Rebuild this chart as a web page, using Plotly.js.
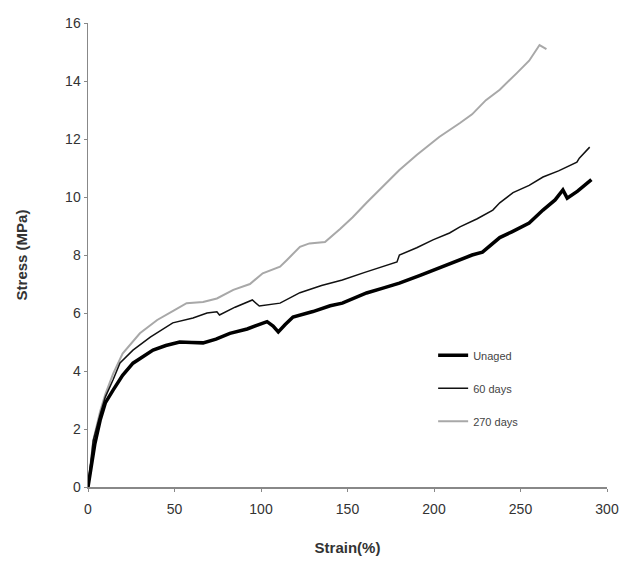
<!DOCTYPE html>
<html>
<head>
<meta charset="utf-8">
<script src="https://cdn.plot.ly/plotly-3.0.1.min.js"></script>
<style>html,body{margin:0;padding:0;background:#fff;}#chart{width:628px;height:561px;}</style>
</head>
<body>
<div id="chart"></div>
<script>
const seriesNames = ["Unaged", "60 days", "270 days"];

const unagedX = [0, 2, 4, 7, 10, 14.5, 20, 26, 32, 37.6, 45, 53, 60, 66.5, 74, 82, 92, 103.5, 107, 110, 114, 118.5, 130, 140, 147, 161, 170, 180, 192, 205, 215, 222, 228, 234, 238, 245, 255, 263, 270, 274.5, 277, 283, 291];
const unagedY = [0, 0.8, 1.5, 2.3, 2.9, 3.34, 3.85, 4.27, 4.5, 4.72, 4.88, 5.0, 4.98, 4.97, 5.1, 5.3, 5.45, 5.7, 5.55, 5.35, 5.6, 5.86, 6.05, 6.25, 6.34, 6.69, 6.85, 7.03, 7.3, 7.6, 7.85, 8.0, 8.1, 8.4, 8.6, 8.8, 9.1, 9.55, 9.9, 10.24, 9.96, 10.2, 10.6];

const days60X = [0, 3, 7, 10, 14.5, 18.5, 26, 36, 49, 60.7, 68.8, 74.5, 76, 85, 95, 99, 111, 122.5, 135, 147, 160, 172.8, 176, 178.6, 180, 190, 199.4, 209, 215, 225, 234, 238, 245.7, 255, 263, 272, 282.6, 284, 290];
const days60Y = [0, 1.6, 2.5, 3.1, 3.7, 4.28, 4.72, 5.17, 5.66, 5.83, 6.0, 6.04, 5.93, 6.2, 6.45, 6.24, 6.34, 6.7, 6.95, 7.14, 7.4, 7.66, 7.7, 7.76, 8.0, 8.25, 8.52, 8.76, 8.97, 9.25, 9.55, 9.8, 10.15, 10.4, 10.69, 10.9, 11.2, 11.34, 11.72];

const days270X = [0, 3, 7, 10, 14.5, 20, 30, 40, 50, 57, 66.5, 74.5, 84, 93.6, 101, 111, 115, 122.5, 128, 137, 145.7, 153, 161, 170, 180, 190, 203, 215, 222, 230, 238, 248, 255, 261, 265];
const days270Y = [0, 1.6, 2.6, 3.2, 3.9, 4.6, 5.3, 5.76, 6.1, 6.34, 6.38, 6.5, 6.8, 7.0, 7.37, 7.6, 7.83, 8.28, 8.4, 8.45, 8.9, 9.3, 9.8, 10.35, 10.93, 11.45, 12.07, 12.55, 12.85, 13.34, 13.7, 14.28, 14.7, 15.24, 15.1];

const xTicks = [0, 50, 100, 150, 200, 250, 300];
const yTicks = [0, 2, 4, 6, 8, 10, 12, 14, 16];

const traces = [
  {x: days270X, y: days270Y, name: seriesNames[2], mode: "lines", legendgroup: "c", legendrank: 3,
   line: {color: "#a8a8a8", width: 2}},
  {x: days60X, y: days60Y, name: seriesNames[1], mode: "lines", legendgroup: "b", legendrank: 2,
   line: {color: "#111111", width: 1.5}},
  {x: unagedX, y: unagedY, name: seriesNames[0], mode: "lines", legendgroup: "a", legendrank: 1,
   line: {color: "#000000", width: 3.5}}
];

const fontFam = "Liberation Sans, Arial, sans-serif";
const layout = {
  width: 628, height: 561,
  margin: {l: 88, r: 21, t: 23, b: 74},
  paper_bgcolor: "#fff", plot_bgcolor: "#fff",
  font: {family: fontFam, color: "#333"},
  showlegend: true,
  legend: {x: 0.665, y: 0.315, xanchor: "left", yanchor: "top",
    bgcolor: "rgba(0,0,0,0)", font: {size: 11, color: "#444"},
    traceorder: "grouped", tracegroupgap: 14},
  xaxis: {range: [0, 300], tickvals: xTicks, ticktext: xTicks.map(String),
    showgrid: false, zeroline: false, showline: true, linecolor: "#888", linewidth: 1.5,
    ticks: "outside", ticklen: 3, tickcolor: "#888", tickfont: {size: 14, color: "#333"},
    ticklabelstandoff: 6,
    title: {text: "<b>Strain(%)</b>", font: {size: 15, color: "#333"}, standoff: 26}},
  yaxis: {range: [0, 16], tickvals: yTicks, ticktext: yTicks.map(String),
    showgrid: false, zeroline: false, showline: true, linecolor: "#888", linewidth: 1.5,
    ticks: "outside", ticklen: 3, tickcolor: "#888", tickfont: {size: 14, color: "#333"},
    title: {text: "<b>Stress (MPa)</b>", font: {size: 15, color: "#333"}, standoff: 34}}
};

Plotly.newPlot("chart", traces, layout, {displayModeBar: false, staticPlot: true});
</script>
</body>
</html>
